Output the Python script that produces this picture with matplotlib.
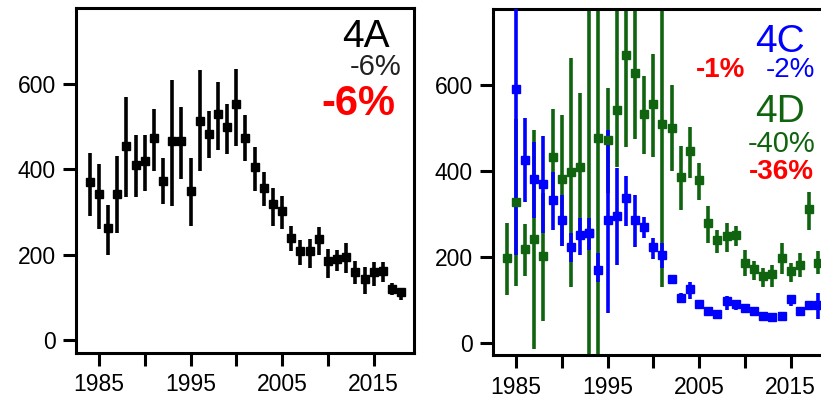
import numpy as np
import matplotlib
matplotlib.use("Agg")
import matplotlib.pyplot as plt

plt.rcParams['font.family'] = ['Liberation Sans', 'DejaVu Sans']

# 4A (left panel)
years_a = list(range(1984, 2019))
a_mid = [369, 341, 263, 341, 455, 410, 420, 474, 373, 466, 466, 349, 513, 482, 529, 498, 552, 474,
         404, 355, 318, 303, 240, 209, 209, 236, 185, 190, 194, 160, 143, 159, 162, 120, 112]
a_lo = [291, 259, 199, 250, 336, 336, 349, 395, 318, 314, 377, 267, 395, 426, 445, 436, 455, 418,
        349, 314, 267, 259, 209, 177, 168, 199, 145, 162, 158, 131, 107, 127, 137, 105, 95]
a_hi = [439, 412, 316, 431, 568, 480, 480, 541, 426, 609, 545, 426, 631, 535, 604, 553, 635, 526,
        453, 393, 355, 338, 268, 234, 237, 264, 213, 211, 228, 186, 172, 183, 183, 133, 123]

# 4C (right panel, blue)
years_c = list(range(1985, 2019))
c_mid = [592, 427, 382, 369, 333, 286, 224, 252, 255, 170, 286, 296, 337, 286, 269, 224, 205,
         149, 105, 124, 91, 74, 66, 97, 89, 81, 74, 62, 60, 62, 101, 74, 87, 87]
c_lo = [205, 329, 290, 255, 262, 226, 187, 205, 215, 141, 70, 182, 273, 223, 243, 196, 174,
        136, 93, 101, 80, 66, 58, 77, 77, 70, 66, 54, 50, 54, 85, 64, 77, 54]
c_hi = [900, 523, 468, 482, 399, 345, 255, 290, 290, 209, 495, 408, 389, 345, 294, 244, 232,
        156, 116, 141, 98, 81, 71, 108, 98, 91, 81, 67, 66, 67, 112, 82, 97, 116]

# 4D (right panel, green)
years_d = list(range(1984, 2019))
d_mid = [197, 327, 218, 242, 201, 434, 382, 398, 410, 255, 478, 473, 542, 670, 629, 533, 556, 509,
         501, 387, 447, 379, 280, 240, 248, 252, 186, 172, 156, 161, 197, 166, 182, 311, 186]
d_lo = [112, 133, 156, -15, 50, 330, 225, 130, 240, -100, -100, 350, 410, 457, 474, 441, 434, 130,
        401, 310, 383, 333, 232, 209, 211, 226, 156, 147, 130, 130, 159, 141, 153, 263, 160]
d_hi = [280, 522, 277, 496, 350, 546, 532, 663, 582, 900, 900, 595, 900, 900, 900, 621, 674, 900,
        600, 459, 503, 418, 318, 263, 280, 273, 217, 190, 174, 180, 232, 186, 208, 352, 213]

x_ticks = [1985, 1990, 1995, 2000, 2005, 2010, 2015]
x_labels = ['1985', '', '1995', '', '2005', '', '2015']
y_ticks = [0, 200, 400, 600]

BLUE = '#0000ff'
GREEN = '#10640f'
RED = '#ff0000'


def err(mid, lo, hi):
    mid = np.array(mid)
    return [mid - np.array(lo), np.array(hi) - mid]


def style(ax):
    ax.set_xlim(1982.5, 2019.4)
    ax.set_ylim(-30, 777)
    ax.set_xticks(x_ticks)
    ax.set_xticklabels(x_labels)
    ax.set_yticks(y_ticks)
    ax.tick_params(direction='out', length=9.5, width=2.2, labelsize=16.5, pad=5,
                   colors='black')
    for s in ax.spines.values():
        s.set_linewidth(2.2)


fig = plt.figure(figsize=(8.21, 4.03), dpi=100)
ax1 = fig.add_axes([0.0926, 0.1241, 0.4117, 0.856])
ax2 = fig.add_axes([0.6005, 0.1179, 0.4117, 0.8586])

# left panel
ax1.errorbar(years_a, a_mid, yerr=err(a_mid, a_lo, a_hi), fmt='none', ecolor='black',
             elinewidth=2.6, capsize=0)
ax1.plot(years_a, a_mid, 's', color='black', markersize=5.5)
style(ax1)
ax1.text(0.857, 0.887, '4A', transform=ax1.transAxes, ha='center', va='baseline',
         fontsize=28, color='black')
ax1.text(0.885, 0.806, '-6%', transform=ax1.transAxes, ha='center', va='baseline',
         fontsize=21, color='#222222')
ax1.text(0.836, 0.690, '-6%', transform=ax1.transAxes, ha='center', va='baseline',
         fontsize=30, color=RED, fontweight='bold')

# right panel
ax2.errorbar(years_d, d_mid, yerr=err(d_mid, d_lo, d_hi), fmt='none', ecolor=GREEN,
             elinewidth=2.6, capsize=0, zorder=2)
ax2.errorbar(years_c, c_mid, yerr=err(c_mid, c_lo, c_hi), fmt='none', ecolor=BLUE,
             elinewidth=2.6, capsize=0, zorder=3)
ax2.plot(years_d, d_mid, 's', color=GREEN, markersize=5.5, zorder=4)
ax2.plot(years_c, c_mid, 's', color=BLUE, markersize=5.5, zorder=5)
style(ax2)
ax2.text(0.849, 0.878, '4C', transform=ax2.transAxes, ha='center', va='baseline',
         fontsize=28, color=BLUE)
ax2.text(0.672, 0.806, '-1%', transform=ax2.transAxes, ha='center', va='baseline',
         fontsize=20, color=RED, fontweight='bold')
ax2.text(0.879, 0.806, '-2%', transform=ax2.transAxes, ha='center', va='baseline',
         fontsize=20, color=BLUE)
ax2.text(0.849, 0.676, '4D', transform=ax2.transAxes, ha='center', va='baseline',
         fontsize=28, color=GREEN)
ax2.text(0.854, 0.589, '-40%', transform=ax2.transAxes, ha='center', va='baseline',
         fontsize=21, color=GREEN)
ax2.text(0.854, 0.510, '-36%', transform=ax2.transAxes, ha='center', va='baseline',
         fontsize=20, color=RED, fontweight='bold')

fig.savefig('out.png', dpi=100)
